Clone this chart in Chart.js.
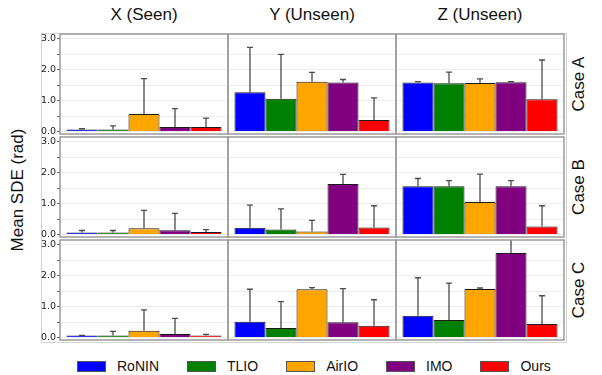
<!DOCTYPE html>
<html>
<head>
<meta charset="utf-8">
<script src="https://cdn.jsdelivr.net/npm/chart.js@4.4.0/dist/chart.umd.min.js"></script>
<style>
  body { margin: 0; background: #fff; width: 602px; height: 375px; position: relative; overflow: hidden;
         font-family: "Liberation Sans", Arial, sans-serif; color: #111; }
  canvas { position: absolute; }
  .lbl { position: absolute; font-size: 17px; white-space: nowrap; transform: translate(-50%, -50%); }
  .rot { transform: translate(-50%, -50%) rotate(-90deg); }
  #frame { position: absolute; left: 41px; top: 33px; width: 524px; height: 308px; border: 1px solid #d4d4d4; }
  #legend { position: absolute; left: 77px; top: 358px; display: flex; gap: 28px; font-size: 14px; line-height: 16px; }
  #legend span.box { display: inline-block; width: 27px; height: 9px; border: 1px solid #555; margin-right: 11px; vertical-align: -1px; }
</style>
</head>
<body>
<div id="frame"></div>
<div id="legend"></div>

<script>
const models = ['RoNIN', 'TLIO', 'AirIO', 'IMO', 'Ours'];
const columns = ['X (Seen)', 'Y (Unseen)', 'Z (Unseen)'];
const cases = ['Case A', 'Case B', 'Case C'];
const yTicks = [0, 1, 2, 3];

// order of each array: A-X, A-Y, A-Z, B-X, B-Y, B-Z, C-X, C-Y, C-Z
const ronin_mean = [0.03, 1.27, 1.58, 0.04, 0.22, 1.56, 0.04, 0.51, 0.70];
const ronin_std  = [0.06, 1.45, 0.03, 0.09, 0.73, 0.25, 0.03, 1.05, 1.23];
const tlio_mean  = [0.03, 1.06, 1.56, 0.03, 0.16, 1.56, 0.02, 0.31, 0.57];
const tlio_std   = [0.15, 1.43, 0.36, 0.10, 0.67, 0.18, 0.18, 0.85, 1.19];
const airio_mean = [0.57, 1.61, 1.57, 0.20, 0.10, 1.05, 0.22, 1.56, 1.57];
const airio_std  = [1.14, 0.30, 0.13, 0.58, 0.36, 0.90, 0.67, 0.05, 0.03];
const imo_mean   = [0.15, 1.58, 1.59, 0.14, 1.63, 1.56, 0.11, 0.49, 2.73];
const imo_std    = [0.59, 0.10, 0.02, 0.54, 0.31, 0.18, 0.51, 1.09, 0.60];
const ours_mean  = [0.15, 0.37, 1.04, 0.08, 0.23, 0.26, 0.05, 0.38, 0.44];
const ours_std   = [0.28, 0.72, 1.27, 0.08, 0.70, 0.67, 0.05, 0.84, 0.91];

const means = [ronin_mean, tlio_mean, airio_mean, imo_mean, ours_mean];
const stds = [ronin_std, tlio_std, airio_std, imo_std, ours_std];
const colors = ['#0000ff', '#008000', '#ffa500', '#800080', '#ff0000'];

// layout of the grid (chart area edges)
const colLeft = [60, 228, 396];
const colW = 168;
const rowTop = [34, 137, 240];
const rowH = 100;

const errorBars = {
  id: 'errorBars',
  afterDatasetsDraw(chart) {
    const c = chart.ctx, y = chart.scales.y, a = chart.chartArea;
    c.save();
    c.beginPath();
    c.rect(a.left, a.top, a.right - a.left, a.bottom - a.top);
    c.clip();
    c.strokeStyle = 'rgba(55,55,55,0.9)';
    c.lineWidth = 1.3;
    chart.data.datasets.forEach((ds, i) => {
      const bar = chart.getDatasetMeta(i).data[0];
      const top = y.getPixelForValue(ds.data[0] + ds.err);
      c.beginPath();
      c.moveTo(bar.x, bar.y);
      c.lineTo(bar.x, top);
      c.moveTo(bar.x - 3, top);
      c.lineTo(bar.x + 3, top);
      c.stroke();
    });
    c.restore();
  }
};

const frame = {
  id: 'frame',
  afterDraw(chart) {
    const c = chart.ctx, a = chart.chartArea;
    c.save();
    c.strokeStyle = '#9a9a9a';
    c.lineWidth = 1.5;
    c.strokeRect(a.left, a.top, a.right - a.left, a.bottom - a.top);
    c.restore();
  }
};

function addLabel(text, x, y, rotated) {
  const d = document.createElement('div');
  d.className = 'lbl' + (rotated ? ' rot' : '');
  d.textContent = text;
  d.style.left = x + 'px';
  d.style.top = y + 'px';
  document.body.appendChild(d);
}

columns.forEach((t, j) => addLabel(t, colLeft[j] + colW / 2, 15));
cases.forEach((t, r) => addLabel(t, 579, rowTop[r] + rowH / 2, true));
addLabel('Mean SDE (rad)', 18, 190, true);

for (let r = 0; r < cases.length; r++) {
  for (let j = 0; j < columns.length; j++) {
    const k = r * columns.length + j;
    const first = j === 0;
    const axisW = first ? 24 : 0;
    const cv = document.createElement('canvas');
    cv.width = colW + axisW + 2;
    cv.height = rowH + 2;
    cv.style.left = (colLeft[j] - axisW - (first ? 0 : 1)) + 'px';
    cv.style.top = (rowTop[r] - 1) + 'px';
    document.body.appendChild(cv);

    new Chart(cv, {
      type: 'bar',
      data: {
        labels: [''],
        datasets: models.map((m, i) => ({
          label: m,
          data: [means[i][k]],
          err: stds[i][k],
          backgroundColor: colors[i],
          borderColor: '#1a1a1a',
          borderWidth: 1,
          minBarLength: 2,
          barPercentage: 1,
          categoryPercentage: 0.923
        }))
      },
      options: {
        responsive: false,
        devicePixelRatio: 1,
        animation: false,
        layout: { padding: { top: 1, bottom: 1, left: first ? 0 : 1, right: first ? 2 : 1 } },
        plugins: { legend: { display: false }, tooltip: { enabled: false } },
        scales: {
          x: { display: false },
          y: {
            min: -0.08,
            max: 3.15,
            afterFit: s => { s.width = axisW; s.paddingTop = 0; s.paddingBottom = 0; },
            border: { display: false },
            grid: { color: '#ececec', drawTicks: first, tickLength: 3, tickColor: '#666' },
            ticks: {
              display: first,
              stepSize: 0.5,
              includeBounds: false,
              padding: 1,
              color: '#222',
              font: { family: 'DejaVu Sans', size: 9.5 },
              callback: v => yTicks.includes(v) ? v.toFixed(1) : ''
            }
          }
        }
      },
      plugins: [errorBars, frame]
    });
  }
}

const legend = document.getElementById('legend');
models.forEach((m, i) => {
  const item = document.createElement('div');
  item.innerHTML = '<span class="box" style="background:' + colors[i] + '"></span>' + m;
  legend.appendChild(item);
});
</script>
</body>
</html>
